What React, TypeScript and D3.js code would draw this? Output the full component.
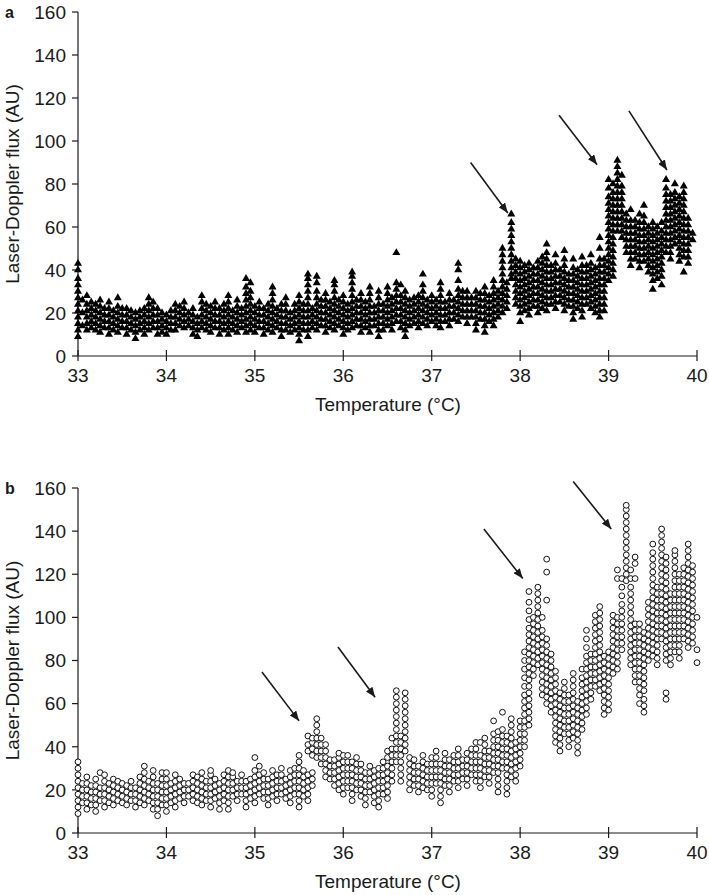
import * as d3 from "d3";
import React from "react";

// [temperature (°C), laser-Doppler flux readings (AU)]
const readingsA: [number, number[]][] = [
  [33.0, [9, 12, 15, 18, 21, 24, 27, 30, 33, 36, 40, 43]],
  [33.05, [14, 20, 26]],
  [33.1, [12, 15, 18, 21, 24, 28]],
  [33.15, [13, 16, 19, 22, 25]],
  [33.2, [12, 15, 18, 21, 24]],
  [33.25, [11, 14, 17, 20, 23, 26]],
  [33.3, [13, 16, 19, 22]],
  [33.35, [10, 13, 16, 19, 22, 25]],
  [33.4, [12, 15, 18, 21]],
  [33.45, [11, 14, 17, 20, 23, 27]],
  [33.5, [13, 16, 19, 22]],
  [33.55, [10, 13, 16, 19, 22]],
  [33.6, [12, 15, 18, 21]],
  [33.65, [8, 11, 14, 17, 20]],
  [33.7, [12, 15, 18, 21]],
  [33.75, [10, 13, 16, 19, 22]],
  [33.8, [12, 15, 18, 21, 24, 27]],
  [33.85, [13, 16, 19, 22, 25]],
  [33.9, [10, 13, 16, 19, 22]],
  [33.95, [11, 14, 17, 20]],
  [34.0, [10, 13, 16, 19]],
  [34.05, [12, 15, 18, 21]],
  [34.1, [12, 15, 18, 21, 24]],
  [34.15, [14, 17, 20, 23]],
  [34.2, [13, 16, 19, 22, 25]],
  [34.25, [14, 17, 20]],
  [34.3, [10, 13, 16, 19, 22]],
  [34.35, [9, 12, 15, 18]],
  [34.4, [13, 16, 19, 22, 25, 28]],
  [34.45, [12, 15, 18, 21, 24]],
  [34.5, [11, 14, 17, 20, 23]],
  [34.55, [13, 16, 19, 22, 25]],
  [34.6, [10, 13, 16, 19, 22]],
  [34.65, [12, 15, 18, 21, 24]],
  [34.7, [10, 13, 16, 19, 22, 25, 28]],
  [34.75, [12, 15, 18, 21]],
  [34.8, [11, 14, 17, 20, 23, 26]],
  [34.85, [13, 16, 19, 22]],
  [34.9, [11, 14, 17, 20, 23, 26, 29, 32, 36]],
  [34.95, [12, 15, 18, 21, 24, 27, 30, 34]],
  [35.0, [11, 14, 17, 20, 23]],
  [35.05, [13, 16, 19, 22, 25]],
  [35.1, [10, 13, 16, 19, 22]],
  [35.15, [12, 15, 18, 21, 24]],
  [35.2, [11, 14, 17, 20, 23, 26, 29, 32]],
  [35.25, [13, 16, 19, 22]],
  [35.3, [9, 12, 15, 18, 21, 24]],
  [35.35, [12, 15, 18, 21, 24, 27]],
  [35.4, [11, 14, 17, 20]],
  [35.45, [12, 15, 18, 21, 24]],
  [35.5, [7, 10, 13, 16, 19, 22, 25, 28]],
  [35.55, [12, 15, 18, 21, 24]],
  [35.6, [9, 12, 15, 18, 21, 24, 27, 30, 33, 36, 38]],
  [35.65, [13, 16, 19, 22]],
  [35.7, [12, 15, 18, 21, 24, 27, 30, 34, 37]],
  [35.75, [14, 17, 20, 23, 26]],
  [35.8, [11, 14, 17, 20, 23, 26, 29]],
  [35.85, [13, 16, 19, 22, 25]],
  [35.9, [12, 15, 18, 21, 24, 27, 30, 33, 35]],
  [35.95, [14, 17, 20, 23, 26]],
  [36.0, [10, 13, 16, 19, 22, 25, 28]],
  [36.05, [12, 15, 18, 21, 24]],
  [36.1, [13, 16, 19, 22, 25, 28, 31, 34, 37, 39]],
  [36.15, [14, 17, 20, 23, 26]],
  [36.2, [11, 14, 17, 20, 23, 26, 29]],
  [36.25, [13, 16, 19, 22, 25]],
  [36.3, [11, 14, 17, 20, 23, 26, 29, 32]],
  [36.35, [14, 17, 20, 23]],
  [36.4, [9, 12, 15, 18, 21, 24, 27, 30]],
  [36.45, [12, 15, 18, 21, 24]],
  [36.5, [14, 17, 20, 23, 26, 29, 32]],
  [36.55, [12, 15, 18, 21, 24, 27]],
  [36.6, [16, 19, 22, 25, 28, 31, 34, 48]],
  [36.65, [13, 16, 19, 22, 25, 28, 33]],
  [36.7, [9, 12, 15, 18, 21, 24, 27, 30]],
  [36.75, [14, 17, 20, 23, 26]],
  [36.8, [15, 18, 21, 24, 27]],
  [36.85, [13, 16, 19, 22, 25, 28]],
  [36.9, [15, 18, 21, 24, 27, 30, 33, 38]],
  [36.95, [14, 17, 20, 23, 26]],
  [37.0, [16, 19, 22, 25, 28]],
  [37.05, [14, 17, 20, 23, 26]],
  [37.1, [13, 16, 19, 22, 25, 28, 31, 34]],
  [37.15, [16, 19, 22, 25]],
  [37.2, [14, 17, 20, 23, 26, 29]],
  [37.25, [17, 20, 23, 26]],
  [37.3, [16, 19, 22, 25, 28, 31, 35, 40, 43]],
  [37.35, [18, 21, 24, 27, 30]],
  [37.4, [15, 18, 21, 24, 27, 30]],
  [37.45, [18, 21, 24, 27]],
  [37.5, [12, 15, 18, 21, 24, 27, 30]],
  [37.55, [17, 20, 23, 26, 29]],
  [37.6, [11, 14, 17, 20, 23, 26, 29, 32]],
  [37.65, [16, 19, 22, 25, 28]],
  [37.7, [14, 17, 20, 23, 26, 29, 32, 35]],
  [37.75, [18, 21, 24, 27, 30]],
  [37.8, [20, 23, 26, 29, 32, 35, 38, 41, 44, 47, 50]],
  [37.85, [22, 25, 28, 31, 34]],
  [37.9, [36, 38, 41, 44, 47, 50, 53, 56, 59, 62, 66]],
  [37.95, [24, 27, 30, 33, 36, 39, 42, 45]],
  [38.0, [16, 20, 23, 26, 29, 32, 35, 38, 41, 44]],
  [38.05, [21, 24, 27, 30, 33, 36, 39, 42]],
  [38.1, [19, 22, 25, 28, 31, 34, 37, 40, 43]],
  [38.15, [23, 26, 29, 32, 35, 38, 41]],
  [38.2, [20, 23, 26, 29, 32, 35, 38, 41, 44]],
  [38.25, [22, 25, 28, 31, 34, 37, 40, 43, 46]],
  [38.3, [21, 24, 27, 30, 33, 36, 39, 42, 45, 48, 52]],
  [38.35, [24, 27, 30, 33, 36, 39, 42]],
  [38.4, [22, 25, 28, 31, 34, 37, 40, 43, 47]],
  [38.45, [25, 28, 31, 34, 37, 40]],
  [38.5, [21, 24, 27, 30, 33, 36, 39, 42, 45, 49]],
  [38.55, [23, 26, 29, 32, 35, 38]],
  [38.6, [17, 20, 23, 26, 29, 32, 35, 38, 41, 45]],
  [38.65, [22, 25, 28, 31, 34, 37, 40]],
  [38.7, [18, 21, 24, 27, 30, 33, 36, 39, 42, 46]],
  [38.75, [24, 27, 30, 33, 36, 39, 42]],
  [38.8, [22, 25, 28, 31, 34, 37, 40, 43, 47]],
  [38.85, [20, 23, 26, 29, 32, 35, 38, 41]],
  [38.9, [18, 21, 24, 27, 30, 33, 36, 39, 42, 45, 50, 55]],
  [38.95, [21, 24, 27, 30, 33, 36, 39, 42, 45]],
  [39.0, [35, 38, 41, 44, 47, 50, 53, 56, 59, 62, 65, 68, 71, 74, 78, 82]],
  [39.05, [37, 40, 43, 46, 49, 52, 55, 58, 61, 64, 67, 70, 73, 76, 80]],
  [39.1, [58, 61, 64, 67, 70, 73, 76, 79, 82, 85, 88, 91]],
  [39.15, [55, 58, 61, 64, 67, 70, 73, 76, 79, 84]],
  [39.2, [48, 51, 54, 57, 60, 63, 66]],
  [39.25, [42, 45, 48, 51, 54, 57, 60, 63, 68]],
  [39.3, [45, 48, 51, 54, 57, 60, 63]],
  [39.35, [41, 44, 47, 50, 53, 56, 59, 62, 66]],
  [39.4, [44, 47, 50, 53, 56, 59, 62, 65, 70]],
  [39.45, [39, 42, 45, 48, 51, 54, 57, 60]],
  [39.5, [31, 35, 38, 41, 44, 47, 50, 53, 56, 59, 62]],
  [39.55, [36, 39, 42, 45, 48, 51, 54, 57, 60]],
  [39.6, [33, 37, 40, 43, 46, 49, 52, 55, 58, 62]],
  [39.65, [48, 51, 54, 57, 60, 63, 66, 69, 72, 75, 78, 82]],
  [39.7, [45, 48, 51, 54, 57, 60, 63, 66, 69, 72, 75]],
  [39.75, [52, 55, 58, 61, 64, 67, 70, 73, 76, 80]],
  [39.8, [44, 47, 50, 53, 56, 59, 62, 65, 68, 71, 74]],
  [39.85, [39, 46, 49, 52, 55, 58, 61, 64, 67, 70, 73, 76, 79]],
  [39.9, [43, 46, 49, 52, 55, 58, 61, 64]],
  [39.95, [54, 57]],
];

// [temperature (°C), laser-Doppler flux readings (AU)]
const readingsB: [number, number[]][] = [
  [33.0, [9, 12, 15, 18, 21, 24, 27, 30, 33]],
  [33.05, [14, 17, 20, 23]],
  [33.1, [11, 14, 17, 20, 23, 26]],
  [33.15, [13, 16, 19, 22]],
  [33.2, [10, 13, 16, 19, 22, 25]],
  [33.25, [15, 18, 21, 28]],
  [33.3, [12, 15, 18, 21, 24, 27]],
  [33.35, [14, 17, 20, 23]],
  [33.4, [13, 16, 19, 22, 25]],
  [33.45, [15, 18, 21, 24]],
  [33.5, [14, 17, 20, 23]],
  [33.55, [13, 16, 19, 22]],
  [33.6, [15, 18, 21, 24]],
  [33.65, [12, 15, 18, 21]],
  [33.7, [14, 17, 20, 23, 26]],
  [33.75, [13, 16, 19, 22, 25, 28, 31]],
  [33.8, [15, 18, 21, 24]],
  [33.85, [11, 14, 17, 20, 23, 26, 29]],
  [33.9, [8, 11, 14, 17, 20, 23]],
  [33.95, [13, 16, 19, 22, 25, 28]],
  [34.0, [10, 13, 16, 19, 22, 25, 28]],
  [34.05, [14, 17, 20, 23]],
  [34.1, [12, 15, 18, 21, 24, 27]],
  [34.15, [16, 19, 22, 25]],
  [34.2, [14, 17, 20, 23]],
  [34.25, [17, 20, 23]],
  [34.3, [15, 18, 21, 24, 27]],
  [34.35, [14, 17, 20, 23, 26]],
  [34.4, [13, 16, 19, 22, 25, 28]],
  [34.45, [15, 18, 21, 24]],
  [34.5, [12, 15, 18, 21, 24, 27, 29]],
  [34.55, [16, 19, 22, 25]],
  [34.6, [11, 14, 17, 20, 23]],
  [34.65, [15, 18, 21, 24, 27]],
  [34.7, [11, 14, 17, 20, 23, 26, 29]],
  [34.75, [17, 20, 23, 26, 28]],
  [34.8, [15, 18, 21, 24]],
  [34.85, [18, 21, 24, 27]],
  [34.9, [12, 15, 18, 21, 24]],
  [34.95, [16, 19, 22, 25]],
  [35.0, [14, 17, 20, 23, 26, 29, 35]],
  [35.05, [18, 21, 24, 27, 31]],
  [35.1, [16, 19, 22, 25, 28]],
  [35.15, [13, 16, 19, 22, 25]],
  [35.2, [17, 20, 23, 26, 29]],
  [35.25, [15, 18, 21, 24, 27]],
  [35.3, [18, 21, 24, 27, 30]],
  [35.35, [16, 19, 22, 25]],
  [35.4, [14, 17, 20, 23, 26, 29]],
  [35.45, [18, 21, 24, 27, 30]],
  [35.5, [12, 15, 18, 21, 24, 27, 30, 33, 36]],
  [35.55, [17, 20, 23, 26, 29]],
  [35.6, [15, 18, 21, 24, 27, 38, 41, 45]],
  [35.65, [22, 25, 28, 36, 39, 42, 44]],
  [35.7, [35, 38, 41, 44, 47, 50, 53]],
  [35.75, [32, 35, 38, 41, 44]],
  [35.8, [26, 29, 32, 35, 38, 41]],
  [35.85, [25, 28, 31, 34]],
  [35.9, [22, 25, 28, 31, 34]],
  [35.95, [20, 23, 26, 29, 32, 35, 37]],
  [36.0, [18, 21, 24, 27, 30, 33, 36]],
  [36.05, [21, 24, 27, 30, 33, 36]],
  [36.1, [15, 18, 21, 24, 27, 30, 33]],
  [36.15, [20, 23, 26, 29, 32, 35]],
  [36.2, [17, 20, 23, 26, 29, 32]],
  [36.25, [13, 16, 19, 22, 25, 28]],
  [36.3, [19, 22, 25, 28, 31]],
  [36.35, [14, 17, 20, 23, 26, 29]],
  [36.4, [12, 15, 18, 21, 24, 27, 30]],
  [36.45, [18, 21, 24, 27, 30, 33]],
  [36.5, [16, 19, 22, 25, 28, 31, 35, 38]],
  [36.55, [24, 27, 30, 33, 36, 39, 44]],
  [36.6, [33, 36, 39, 42, 45, 48, 51, 54, 57, 60, 63, 66]],
  [36.65, [24, 27, 30, 33, 36, 39, 42, 45]],
  [36.7, [38, 41, 44, 47, 50, 53, 56, 59, 62, 65]],
  [36.75, [20, 23, 26, 29, 32, 35]],
  [36.8, [22, 25, 28, 31, 34]],
  [36.85, [19, 22, 25, 28, 31]],
  [36.9, [21, 24, 27, 30, 33, 36]],
  [36.95, [20, 23, 26, 29, 32]],
  [37.0, [17, 20, 23, 26, 29, 32, 35]],
  [37.05, [23, 26, 29, 32, 35, 38]],
  [37.1, [14, 17, 20, 23, 26, 29, 32]],
  [37.15, [22, 25, 28, 31, 34, 37]],
  [37.2, [19, 22, 25, 28, 31, 34]],
  [37.25, [24, 27, 30, 33, 36]],
  [37.3, [21, 24, 27, 30, 33, 36, 39]],
  [37.35, [25, 28, 31, 34]],
  [37.4, [22, 25, 28, 31, 34, 37]],
  [37.45, [27, 30, 33, 36, 39]],
  [37.5, [24, 27, 30, 33, 36, 39, 42]],
  [37.55, [21, 24, 27, 30, 33, 36, 42]],
  [37.6, [26, 29, 32, 35, 38, 41, 44]],
  [37.65, [23, 26, 29, 32, 35, 38]],
  [37.7, [28, 31, 34, 37, 40, 43, 46, 52]],
  [37.75, [19, 22, 25, 28, 31, 34, 37, 40, 43, 47]],
  [37.8, [30, 33, 36, 39, 42, 45, 48, 56]],
  [37.85, [18, 21, 24, 27, 30, 33, 36, 39, 42, 45]],
  [37.9, [26, 29, 32, 35, 38, 41, 44, 47, 50, 53]],
  [37.95, [24, 27, 30, 33, 36, 39, 42]],
  [38.0, [31, 34, 37, 40, 43, 46, 49, 52]],
  [38.05, [40, 43, 46, 49, 52, 55, 58, 61, 64, 68, 72, 76, 80, 84]],
  [38.1, [50, 53, 56, 59, 62, 65, 68, 71, 74, 77, 80, 83, 86, 89, 92, 95, 99, 103, 107, 112]],
  [38.15, [73, 76, 79, 82, 85, 88, 91, 94, 97, 100]],
  [38.2, [78, 81, 84, 87, 90, 93, 96, 99, 102, 105, 108, 111, 114]],
  [38.25, [64, 67, 70, 73, 76, 79, 82, 85, 88, 91, 94, 100]],
  [38.3, [60, 63, 66, 69, 72, 75, 78, 81, 84, 87, 90, 108, 121, 127]],
  [38.35, [56, 59, 62, 65, 68, 71, 74, 77, 80, 83]],
  [38.4, [42, 45, 48, 51, 54, 57, 60, 63, 66, 69, 72, 75]],
  [38.45, [38, 41, 44, 47, 50, 53, 56, 59, 62, 65]],
  [38.5, [46, 49, 52, 55, 58, 61, 64, 67, 70]],
  [38.55, [40, 43, 46, 49, 52, 55, 58, 61, 64]],
  [38.6, [44, 47, 50, 53, 56, 59, 62, 65, 68, 71, 74]],
  [38.65, [37, 40, 43, 46, 49, 52, 55, 58, 61]],
  [38.7, [48, 51, 54, 57, 60, 63, 66, 69, 72, 76]],
  [38.75, [55, 58, 61, 64, 67, 70, 73, 76, 79, 82, 86, 90, 94]],
  [38.8, [62, 65, 68, 71, 74, 77, 80, 83]],
  [38.85, [68, 71, 74, 77, 80, 83, 86, 89, 92, 95, 98, 101]],
  [38.9, [66, 69, 72, 75, 78, 81, 84, 87, 90, 93, 96, 99, 102, 105]],
  [38.95, [55, 58, 61, 64, 67, 70, 73, 76, 79, 82]],
  [39.0, [57, 60, 63, 66, 69, 72, 75, 78, 81, 84]],
  [39.05, [74, 77, 80, 83, 86, 89, 92, 95, 98, 101]],
  [39.1, [76, 79, 82, 85, 88, 91, 94, 97, 100, 118, 122]],
  [39.15, [85, 88, 91, 94, 97, 100, 103, 106, 110, 114, 118]],
  [39.2, [117, 120, 123, 126, 129, 132, 135, 138, 141, 144, 147, 150, 152]],
  [39.25, [78, 81, 84, 87, 90, 93, 96, 99, 102, 105, 108, 111, 114, 118, 122]],
  [39.3, [70, 73, 76, 79, 82, 85, 88, 91, 94, 97, 118, 125, 128]],
  [39.35, [60, 64, 67, 70, 73, 76, 79, 82, 85, 88, 91, 94, 97]],
  [39.4, [56, 59, 62, 66, 69, 72, 75, 78, 81, 84, 87, 90, 93]],
  [39.45, [80, 83, 86, 89, 92, 95, 98, 101, 104, 107]],
  [39.5, [82, 85, 88, 91, 94, 97, 100, 103, 106, 109, 112, 115, 118, 121, 124, 127, 130, 134]],
  [39.55, [78, 81, 84, 87, 90, 93, 96, 99, 102, 105, 108, 111, 114]],
  [39.6, [90, 93, 96, 99, 102, 105, 108, 111, 114, 117, 120, 123, 126, 129, 132, 135, 138, 141]],
  [39.65, [62, 65, 80, 83, 86, 89, 92, 95, 98, 101, 104, 107, 110, 113, 116, 119, 122, 125, 128]],
  [39.7, [78, 81, 84, 87, 90, 93, 96, 99, 102, 105, 108, 111]],
  [39.75, [84, 87, 90, 93, 96, 99, 102, 105, 108, 111, 114, 117, 120, 123, 126, 129, 131]],
  [39.8, [81, 84, 87, 90, 93, 96, 99, 102, 105, 108, 111, 114, 117, 120]],
  [39.85, [90, 93, 96, 99, 102, 105, 108, 111, 114, 117, 120, 123]],
  [39.9, [86, 89, 92, 95, 98, 101, 104, 107, 110, 113, 116, 119, 122, 125, 128, 131, 134]],
  [39.95, [88, 91, 94, 97, 100, 103, 106, 109, 112, 115, 118, 121, 124]],
  [40.0, [79, 85, 100]],
];

// arrows: [tail temp, tail flux, tip temp, tip flux]
const arrowsA = [
  [37.44, 90, 37.86, 66.5],
  [38.44, 112, 38.87, 89],
  [39.23, 114, 39.66, 86.5],
];
const arrowsB = [
  [35.08, 74.7, 35.5, 52],
  [35.94, 86.3, 36.36, 63],
  [37.59, 141, 38.03, 118],
  [38.6, 163, 39.03, 141],
];

const xTicks = [33, 34, 35, 36, 37, 38, 39, 40];
const yTicks = [0, 20, 40, 60, 80, 100, 120, 140, 160];

const FONT = "'Liberation Sans', Arial, sans-serif";
const INK = "#1a1a1a";

interface PanelProps {
  top: number;
  bottom: number;
  tag: string;
  readings: [number, number[]][];
  arrows: number[][];
  kind: "triangle" | "circle";
  id: string;
}

const Panel = ({ top, bottom, tag, readings, arrows, kind, id }: PanelProps) => {
  const x = d3.scaleLinear().domain([33, 40]).range([78, 697]);
  const y = d3.scaleLinear().domain([0, 160]).range([bottom, top]);
  const tri = d3.symbol().type(d3.symbolTriangle).size(28)()!;

  const points = readings.flatMap(([t, vals]) => vals.map((v) => [t, v]));

  return (
    <g>
      <defs>
        <marker
          id={`head-${id}`}
          viewBox="0 0 10 8"
          refX={10}
          refY={4}
          markerWidth={10}
          markerHeight={8}
          markerUnits="userSpaceOnUse"
          orient="auto"
        >
          <path d="M0,0 L10,4 L0,8 Z" fill={INK} />
        </marker>
      </defs>

      <text x={5} y={top + 6} fontFamily={FONT} fontWeight="bold" fontSize={16} fill={INK}>
        {tag}
      </text>

      {/* y axis */}
      <line x1={78} x2={78} y1={top} y2={bottom} stroke={INK} strokeWidth={1.2} />
      {yTicks.map((t) => (
        <g key={t}>
          <line x1={72} x2={78} y1={y(t)} y2={y(t)} stroke={INK} strokeWidth={1.2} />
          <text
            x={66}
            y={y(t)}
            dy="0.36em"
            textAnchor="end"
            fontFamily={FONT}
            fontSize={19}
            fill={INK}
          >
            {t}
          </text>
        </g>
      ))}
      <text
        transform={`translate(19,${(top + bottom) / 2}) rotate(-90)`}
        textAnchor="middle"
        fontFamily={FONT}
        fontSize={19}
        fill={INK}
      >
        Laser-Doppler flux (AU)
      </text>

      {/* x axis */}
      <line x1={78} x2={697} y1={bottom} y2={bottom} stroke={INK} strokeWidth={1.2} />
      {xTicks.map((t) => (
        <g key={t}>
          <line x1={x(t)} x2={x(t)} y1={bottom - 6} y2={bottom + 5} stroke={INK} strokeWidth={1.2} />
          <text
            x={x(t)}
            y={bottom + 19}
            dy="0.36em"
            textAnchor="middle"
            fontFamily={FONT}
            fontSize={19}
            fill={INK}
          >
            {t}
          </text>
        </g>
      ))}
      <text
        x={388}
        y={bottom + 48}
        dy="0.36em"
        textAnchor="middle"
        fontFamily={FONT}
        fontSize={19}
        fill={INK}
      >
        Temperature (°C)
      </text>

      {/* readings */}
      {points.map(([t, v], i) =>
        kind === "triangle" ? (
          <path key={i} d={tri} transform={`translate(${x(t)},${y(v)})`} fill="#000" />
        ) : (
          <circle
            key={i}
            cx={x(t)}
            cy={y(v)}
            r={2.9}
            fill="#fff"
            stroke="#111"
            strokeWidth={1}
          />
        )
      )}

      {/* arrows */}
      {arrows.map(([t0, v0, t1, v1], i) => (
        <line
          key={i}
          x1={x(t0)}
          y1={y(v0)}
          x2={x(t1)}
          y2={y(v1)}
          stroke={INK}
          strokeWidth={1.6}
          markerEnd={`url(#head-${id})`}
        />
      ))}
    </g>
  );
};

export default function App() {
  return (
    <svg
      width={709}
      height={895}
      style={{ position: "absolute", left: 0, top: 0, background: "#fff" }}
    >
      <Panel top={12} bottom={356} tag="a" readings={readingsA} arrows={arrowsA} kind="triangle" id="a" />
      <Panel top={488} bottom={833} tag="b" readings={readingsB} arrows={arrowsB} kind="circle" id="b" />
    </svg>
  );
}
